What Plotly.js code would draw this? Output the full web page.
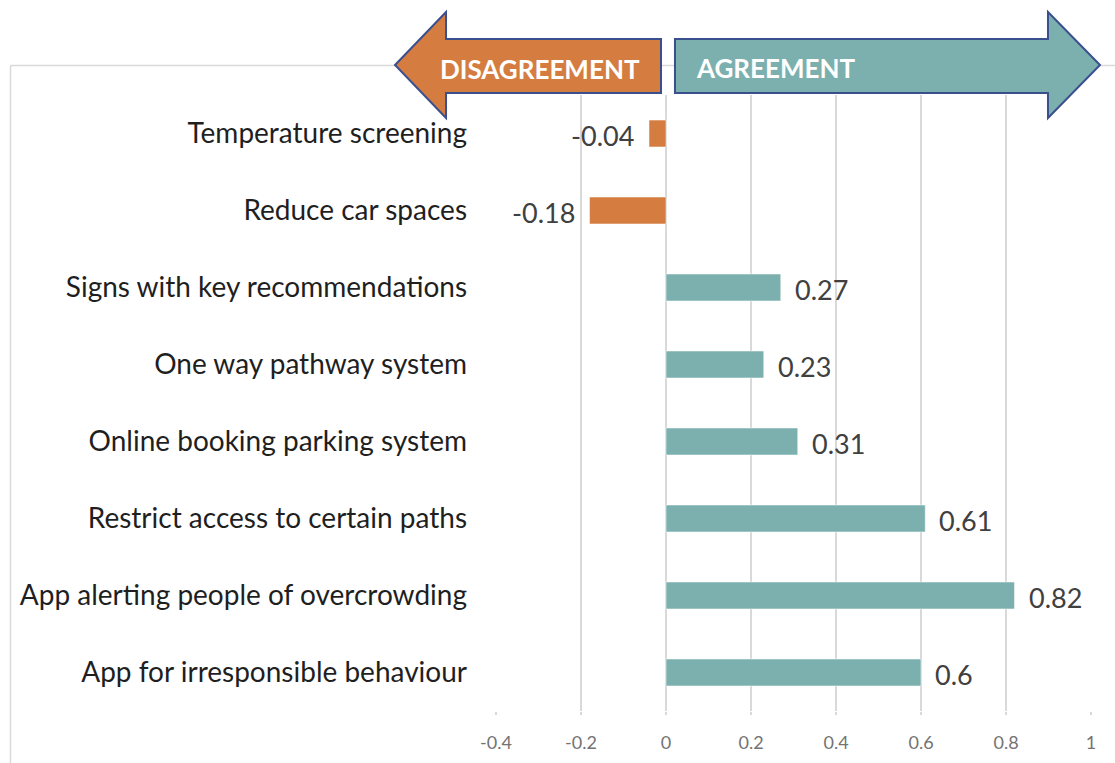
<!DOCTYPE html>
<html>
<head>
<meta charset="utf-8">
<script src="https://cdn.plot.ly/plotly-3.0.1.min.js"></script>
<style>html,body{margin:0;padding:0;background:#fff;}#chart{width:1115px;height:763px;}</style>
</head>
<body>
<div id="chart"></div>
<script>
// ---- data ----
const categories = [
  "Temperature screening",
  "Reduce car spaces",
  "Signs with key recommendations",
  "One way pathway system",
  "Online booking parking system",
  "Restrict access to certain paths",
  "App alerting people of overcrowding",
  "App for irresponsible behaviour"
];
const values = [-0.04, -0.18, 0.27, 0.23, 0.31, 0.61, 0.82, 0.6];
const valueLabels = ["-0.04", "-0.18", "0.27", "0.23", "0.31", "0.61", "0.82", "0.6"];
const xTicks = [-0.4, -0.2, 0, 0.2, 0.4, 0.6, 0.8, 1];
const xTickLabels = ["-0.4", "-0.2", "0", "0.2", "0.4", "0.6", "0.8", "1"];
const arrowLabels = ["DISAGREEMENT", "AGREEMENT"];

// ---- styles ----
const NEG = "#D57D40", POS = "#7BB0AF", OUTLINE = "#3A4F8E";
const W = 1115, H = 763;
const L = 496, R = 1091, T = 95, B = 711;
const px = x => (x - L) / (R - L);
const py = y => (B - y) / (B - T);
const path = pts => "M" + pts.map(p => px(p[0]).toFixed(4) + "," + py(p[1]).toFixed(4)).join(" L") + " Z";

const barColors = values.map(v => v < 0 ? NEG : POS);

const trace = {
  type: "bar",
  orientation: "h",
  y: categories,
  x: values,
  width: 0.35,
  marker: {color: barColors, line: {color: "rgba(255,255,255,0.5)", width: 1}},
  hoverinfo: "x+y"
};

const valueAnnotations = values.map((v, i) => ({
  x: v, y: categories[i], xref: "x", yref: "y",
  text: valueLabels[i], showarrow: false,
  xanchor: v < 0 ? "right" : "left",
  xshift: v < 0 ? -13 : 12, yshift: -2,
  font: {family: "Lato, 'Open Sans', sans-serif", size: 27, color: "#404040"}
}));

const leftArrow = [[395,65],[446,12],[446,39],[661,39],[661,93],[446,93],[446,118]];
const rightArrow = [[675,39],[1048,39],[1048,12],[1100,65],[1048,118],[1048,93],[675,93]];

const shapes = [
  {type: "line", xref: "paper", yref: "paper", x0: px(10.5), x1: px(1120), y0: py(65.5), y1: py(65.5), line: {color: "#d9d9d9", width: 1.5}, layer: "below"},
  {type: "line", xref: "paper", yref: "paper", x0: px(10.5), x1: px(10.5), y0: py(65.5), y1: py(770), line: {color: "#d9d9d9", width: 1.5}, layer: "below"},
  {type: "path", xref: "paper", yref: "paper", path: path(leftArrow), fillcolor: NEG, line: {color: OUTLINE, width: 2}, layer: "above"},
  {type: "path", xref: "paper", yref: "paper", path: path(rightArrow), fillcolor: POS, line: {color: OUTLINE, width: 2}, layer: "above"}
];

const arrowAnnotations = [
  {xref: "paper", yref: "paper", x: px(540), y: py(69), text: "<b>" + arrowLabels[0] + "</b>", showarrow: false, xanchor: "center", yanchor: "middle",
   font: {family: "Lato, sans-serif", size: 26, color: "#ffffff"}},
  {xref: "paper", yref: "paper", x: px(694), y: py(68), text: "<b>" + arrowLabels[1] + "</b>", showarrow: false, xanchor: "left", yanchor: "middle",
   font: {family: "Lato, sans-serif", size: 26, color: "#ffffff"}}
];

const layout = {
  width: W, height: H,
  margin: {l: L, r: W - R, t: T, b: H - B, pad: 0},
  paper_bgcolor: "#ffffff", plot_bgcolor: "#ffffff",
  showlegend: false,
  bargap: 0,
  xaxis: {
    range: [-0.4, 1], tickvals: xTicks, ticktext: xTickLabels,
    showgrid: true, gridcolor: "#d9d9d9", gridwidth: 1.5,
    zeroline: false, showline: false,
    ticks: "outside", ticklen: 3, tickcolor: "#d9d9d9", tickwidth: 1.5,
    ticklabelstandoff: 12,
    tickfont: {family: "Lato, 'Open Sans', sans-serif", size: 18, color: "#737373"},
    fixedrange: true
  },
  yaxis: {
    type: "category", autorange: "reversed",
    showgrid: false, zeroline: false, showline: false, ticks: "",
    ticklabelstandoff: 28,
    tickfont: {family: "Lato, 'Open Sans', sans-serif", size: 28, color: "#1f1f1f"},
    fixedrange: true
  },
  shapes: shapes,
  annotations: valueAnnotations.concat(arrowAnnotations)
};

Plotly.newPlot("chart", [trace], layout, {displayModeBar: false, staticPlot: true});
</script>
</body>
</html>
